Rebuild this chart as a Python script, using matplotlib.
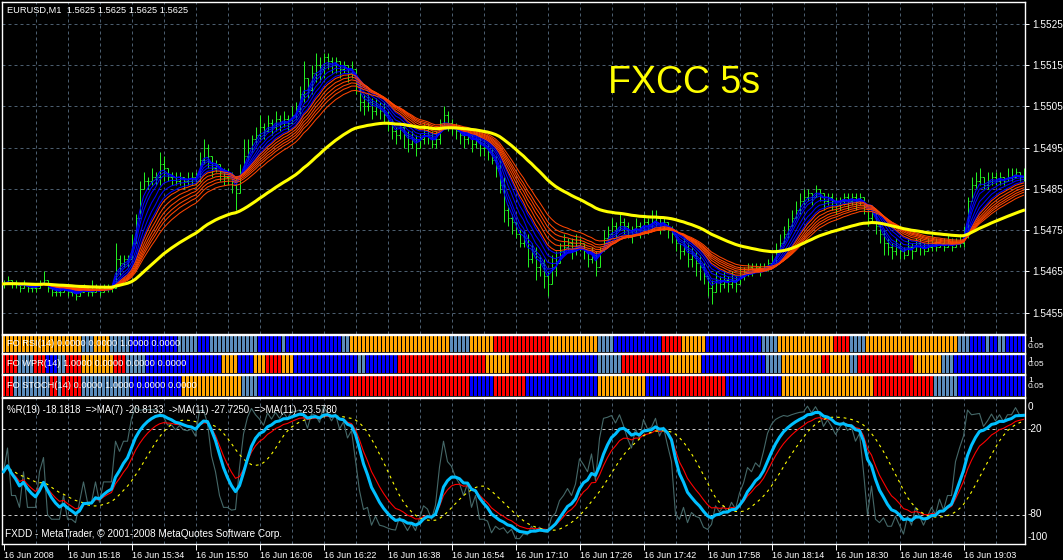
import numpy as np
import pandas as pd
import matplotlib
matplotlib.use("Agg")
import matplotlib.pyplot as plt

W, H = 1063, 560
BASE = 1.54  # price = BASE + pips / 10000

# EURUSD M1 bars, 16 Jun 2008 from 15:02, in pips above BASE (8 bars per row)
close = [62, 63, 62, 62, 61, 62, 61, 61,
         61, 62, 63, 61, 60, 60, 60, 61,
         60, 60, 59, 60, 61, 60, 60, 61,
         60, 61, 61, 61, 68, 67, 68, 68,
         72, 78, 85, 87, 87, 88, 88, 91,
         90, 88, 88, 87, 88, 87, 87, 88,
         87, 92, 95, 93, 90, 91, 89, 88,
         88, 87, 84, 89, 93, 95, 97, 98,
         100, 99, 101, 100, 102, 101, 102, 101,
         103, 104, 108, 112, 109, 113, 115, 114,
         117, 116, 115, 116, 114, 115, 113, 114,
         110, 106, 105, 106, 104, 105, 104, 103,
         101, 99, 98, 100, 98, 96, 97, 95,
         97, 99, 98, 96, 97, 101, 103, 101,
         100, 99, 98, 97, 98, 96, 97, 95,
         95, 94, 92, 90, 86, 80, 78, 77,
         74, 72, 73, 68, 70, 66, 67, 64,
         62, 66, 67, 70, 71, 72, 70, 71,
         72, 70, 68, 69, 66, 70, 73, 74,
         76, 75, 77, 76, 75, 74, 76, 75,
         77, 76, 77, 78, 76, 77, 75, 74,
         72, 70, 71, 68, 69, 67, 66, 64,
         61, 60, 63, 62, 63, 62, 63, 62,
         64, 65, 66, 65, 66, 65, 66, 67,
         67, 70, 72, 74, 76, 78, 80, 82,
         83, 84, 83, 85, 84, 82, 83, 82,
         81, 82, 83, 82, 83, 82, 83, 81,
         78, 80, 76, 74, 72, 71, 70, 71,
         70, 69, 71, 70, 72, 71, 70, 71,
         72, 71, 72, 71, 72, 71, 72, 72,
         74, 82, 86, 87, 88, 86, 87, 88,
         87, 88, 87, 88, 88, 89, 88, 88]
high = [63, 64, 63, 63, 62, 63, 62, 62,
        62, 63, 65, 63, 61, 61, 61, 62,
        61, 61, 60, 61, 62, 61, 63, 62,
        61, 62, 62, 62, 72, 69, 69, 69,
        74, 79, 87, 89, 88, 90, 89, 94,
        93, 90, 89, 89, 89, 88, 89, 89,
        89, 94, 97, 96, 93, 92, 91, 90,
        90, 89, 88, 91, 97, 97, 98, 100,
        103, 101, 103, 102, 104, 103, 104, 103,
        105, 106, 110, 116, 112, 115, 118, 117,
        118, 118, 117, 117, 116, 116, 115, 116,
        114, 111, 108, 108, 107, 107, 106, 106,
        104, 102, 100, 101, 100, 99, 99, 98,
        98, 101, 101, 99, 99, 102, 105, 104,
        102, 101, 100, 99, 99, 98, 99, 98,
        97, 96, 95, 93, 92, 88, 81, 79,
        77, 75, 75, 74, 72, 71, 69, 68,
        65, 69, 70, 72, 74, 73, 73, 74,
        73, 72, 70, 71, 70, 71, 75, 76,
        78, 77, 79, 78, 77, 76, 78, 77,
        79, 78, 80, 80, 78, 78, 77, 76,
        74, 72, 73, 72, 71, 70, 69, 67,
        64, 63, 65, 64, 65, 64, 65, 64,
        66, 66, 67, 67, 67, 67, 67, 68,
        69, 72, 74, 76, 78, 80, 82, 84,
        85, 85, 84, 86, 85, 84, 84, 84,
        83, 83, 84, 84, 84, 84, 84, 83,
        81, 81, 80, 77, 75, 73, 72, 73,
        72, 71, 73, 72, 73, 73, 72, 73,
        74, 73, 73, 73, 74, 73, 73, 74,
        76, 83, 88, 89, 90, 88, 89, 89,
        89, 89, 88, 90, 90, 90, 89, 90]
low = [61, 62, 61, 61, 60, 61, 60, 60,
       60, 61, 62, 60, 59, 59, 59, 60,
       59, 59, 58, 59, 60, 59, 59, 60,
       59, 60, 60, 60, 61, 64, 66, 66,
       68, 72, 79, 85, 85, 86, 86, 86,
       87, 87, 86, 86, 86, 85, 86, 86,
       86, 87, 91, 90, 88, 89, 87, 86,
       86, 84, 80, 84, 89, 92, 94, 96,
       97, 97, 99, 98, 99, 99, 100, 99,
       101, 102, 103, 106, 107, 108, 111, 111,
       112, 114, 113, 113, 112, 113, 111, 112,
       108, 104, 103, 104, 102, 103, 102, 101,
       99, 97, 96, 97, 95, 94, 95, 93,
       95, 96, 96, 95, 95, 96, 100, 99,
       98, 97, 96, 95, 96, 94, 95, 93,
       93, 92, 91, 88, 84, 77, 76, 74,
       73, 71, 71, 66, 67, 63, 64, 61,
       59, 62, 64, 67, 69, 70, 68, 69,
       70, 68, 66, 67, 64, 66, 70, 72,
       74, 73, 75, 74, 73, 72, 74, 73,
       74, 74, 75, 76, 74, 75, 73, 72,
       70, 68, 69, 66, 66, 64, 63, 62,
       59, 57, 60, 60, 61, 60, 61, 60,
       62, 63, 64, 64, 65, 64, 65, 65,
       66, 67, 70, 72, 73, 76, 78, 79,
       81, 82, 81, 83, 82, 80, 81, 80,
       79, 80, 81, 80, 81, 80, 81, 79,
       76, 77, 74, 72, 69, 69, 68, 69,
       68, 68, 69, 68, 70, 69, 69, 70,
       70, 70, 71, 70, 71, 70, 71, 71,
       71, 73, 82, 85, 86, 85, 85, 86,
       86, 86, 86, 87, 87, 88, 87, 87]

# signal strips: O orange, R red, B blue, S neutral (run lengths in bars)
rsi_runs = [("O", 20), ("S", 3), ("O", 4), ("S", 5), ("B", 12), ("S", 5), ("B", 3),
            ("S", 12), ("B", 6), ("S", 1), ("B", 14), ("S", 2), ("O", 25), ("S", 5),
            ("O", 6), ("R", 14), ("O", 12), ("S", 4), ("B", 12), ("R", 5), ("O", 6),
            ("B", 14), ("S", 4), ("O", 14), ("R", 4), ("S", 4), ("O", 23), ("S", 3),
            ("B", 4), ("S", 1), ("B", 2), ("S", 2), ("B", 5)]
wpr_runs = [("R", 4), ("S", 4), ("R", 3), ("B", 3), ("S", 2), ("R", 4), ("O", 8),
            ("R", 3), ("S", 5), ("B", 19), ("O", 4), ("B", 4), ("O", 3), ("R", 4),
            ("O", 3), ("B", 16), ("S", 2), ("B", 8), ("R", 22), ("O", 6), ("R", 10),
            ("B", 12), ("S", 6), ("R", 12), ("O", 8), ("B", 16), ("S", 4), ("O", 10),
            ("R", 2), ("O", 5), ("S", 2), ("R", 14), ("O", 7), ("S", 3), ("B", 18)]
stoch_runs = [("R", 3), ("S", 9), ("R", 2), ("S", 1), ("R", 5), ("S", 12), ("B", 13),
              ("O", 15), ("S", 4), ("B", 23), ("R", 30), ("B", 6), ("R", 8), ("B", 18),
              ("O", 12), ("B", 6), ("R", 14), ("B", 14), ("O", 23), ("R", 15), ("S", 6),
              ("B", 17)]

price_ticks = [1.5455, 1.5465, 1.5475, 1.5485, 1.5495, 1.5505, 1.5515, 1.5525]
time_labels = ["16 Jun 2008", "16 Jun 15:18", "16 Jun 15:34", "16 Jun 15:50",
               "16 Jun 16:06", "16 Jun 16:22", "16 Jun 16:38", "16 Jun 16:54",
               "16 Jun 17:10", "16 Jun 17:26", "16 Jun 17:42", "16 Jun 17:58",
               "16 Jun 18:14", "16 Jun 18:30", "16 Jun 18:46", "16 Jun 19:03"]
wr_labels = [(0, 407), (-20, 429), (-80, 514), (-100, 537)]  # value, label pixel y

blue_periods = [3, 4, 5, 7, 9, 11]
orange_periods = [12, 14, 16, 18, 20, 23]
yellow_period = 50

plt.rcParams["font.family"] = ["Liberation Sans", "DejaVu Sans"]

GRID = "#4b5d6e"
GREEN = "#22ee22"
STRIP_COL = {"O": "#ffa500", "R": "#ff0000", "B": "#0000ff", "S": "#5b8cbc"}

n = len(close)
idx = np.arange(n)
c = BASE + np.array(close) / 1e4
hi = BASE + np.array(high) / 1e4
lo = BASE + np.array(low) / 1e4
op = np.r_[c[0], c[:-1]]


def ema(x, span):
    return pd.Series(x).ewm(span=span, adjust=False).mean().values


fig = plt.figure(figsize=(W / 100, H / 100), dpi=100, facecolor="black")


def px_axes(x0, y0, x1, y1):
    ax = fig.add_axes([x0 / W, 1 - y1 / H, (x1 - x0) / W, (y1 - y0) / H])
    ax.set_facecolor("black")
    for s in ax.spines.values():
        s.set_color("white")
        s.set_linewidth(1.0)
    # 4 px per bar, bar centres on pixel centres
    ax.set_xlim(-0.375, -0.375 + (x1 - x0) / 4)
    ax.set_xticks([])
    ax.set_yticks([])
    return ax


def fig_text(x, y, s, **kw):
    fig.text(x / W, 1 - y / H, s, color=kw.pop("color", "white"), **kw)


# ---- main price window
ax = px_axes(2, 2, 1025, 334)
ax.set_ylim(BASE + 49.84 / 1e4, BASE + 130.33 / 1e4)
for p in price_ticks:
    ax.axhline(p, color=GRID, lw=0.72, ls=(0, (3, 3)), zorder=0)
for k in range(8, 256, 8):
    ax.axvline(k, color=GRID, lw=0.72, ls=(0, (3, 3)), zorder=0)

ax.vlines(idx, lo, hi, color=GREEN, lw=0.72, zorder=1)
ax.hlines(c, idx, idx + 0.375, color=GREEN, lw=0.72, zorder=1)
ax.hlines(op, idx - 0.375, idx, color=GREEN, lw=0.72, zorder=1)
for per in blue_periods:
    ax.plot(idx, ema(c, per), color="#0000ff", lw=0.75, zorder=2)
for per in orange_periods:
    ax.plot(idx, ema(c, per), color="#ff4500", lw=0.75, zorder=3)
ax.plot(idx, ema(c, yellow_period), color="#ffff00", lw=2.2, zorder=4)

ax.yaxis.tick_right()
ax.set_yticks(price_ticks)
ax.set_yticklabels([f"{p:.4f}" for p in price_ticks])
ax.tick_params(axis="y", colors="white", labelsize=7.2, length=3, width=0.7, pad=2)

fig_text(7, 10, "EURUSD,M1  1.5625 1.5625 1.5625 1.5625", fontsize=6.7, va="center")
fig.text(608 / W, 1 - 93 / H, "FXCC 5s", color="#ffff00", fontsize=27, va="baseline")

# ---- signal strips
strips = [(rsi_runs, "FO RSI(14) 0.0000 0.0000 1.0000 0.0000", 335, 353),
          (wpr_runs, "FO WPR(14) 1.0000 0.0000 0.0000 0.0000", 354, 374),
          (stoch_runs, "FO STOCH(14) 0.0000 1.0000 0.0000 0.0000", 375, 397)]
for runs, label, y0, y1 in strips:
    sax = px_axes(2, y0, 1025, y1)
    states = "".join(s * k for s, k in runs)
    for s in "ORBS":
        pos = [i for i, t in enumerate(states) if t == s]
        sax.bar(pos, 1, width=0.7, bottom=0, color=STRIP_COL[s], linewidth=0)
    sax.set_ylim(-0.07, 1.07)
    fig_text(7, (y0 + y1) / 2, label, fontsize=6.7, va="center")
    fig_text(1028, y0 + 6, "1", fontsize=6, va="center")
    fig_text(1028, y0 + 11, "0.05", fontsize=6, va="center")

# ---- Williams %R window
wax = px_axes(2, 398, 1025, 544)
wax.set_ylim(-100.7, 1.75)
hh = pd.Series(hi).rolling(19, min_periods=1).max().values
ll = pd.Series(lo).rolling(19, min_periods=1).min().values
wr = -100 * (hh - c) / np.where(hh > ll, hh - ll, 1)
wr_fast = ema(wr, 7)
wr_mid = ema(wr, 11)
wr_slow = pd.Series(wr_fast).rolling(11, min_periods=1).mean().values

for k in range(8, 256, 8):
    wax.axvline(k, color=GRID, lw=0.72, ls=(0, (3, 3)), zorder=0)
for lev in (-20, -80):
    wax.axhline(lev, color="#c8c8c8", lw=0.72, ls=(0, (3, 3)), zorder=0)
wax.plot(idx, wr, color="#456868", lw=0.8, zorder=1)
wax.plot(idx, wr_fast, color="#00bfff", lw=2.2, zorder=3)
wax.plot(idx, wr_mid, color="#ff0000", lw=0.8, zorder=2)
wax.plot(idx, wr_slow, color="#ffff00", lw=0.8, ls=(0, (2.5, 3.5)), zorder=2)

wax.set_xticks(range(0, 256, 16))
wax.set_xticklabels(time_labels)
wax.tick_params(axis="x", colors="white", labelsize=6.5, length=4, width=0.7, pad=1)
for lab in wax.get_xticklabels():
    lab.set_ha("left")
for val, ypix in wr_labels:
    fig_text(1028, ypix, str(val), fontsize=7.2, va="center")

fig_text(7, 410, "%R(19) -18.1818  =>MA(7) -20.8133  ->MA(11) -27.7250  =>MA(11) -23.5780",
         fontsize=6.9, va="center")
fig_text(5, 534, "FXDD - MetaTrader, \u00a9 2001-2008 MetaQuotes Software Corp.",
         fontsize=7.2, va="center")

fig.savefig("out.png", dpi=100, facecolor="black")
